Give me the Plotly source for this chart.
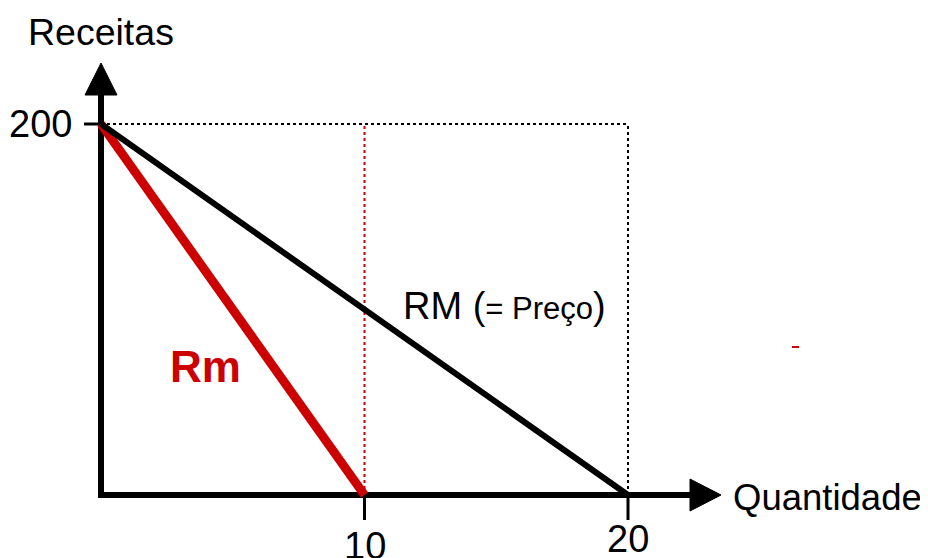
import plotly.graph_objects as go

# Data
quantidade = [0, 10, 20]
rm_media = [200, 100, 0]        # RM (= Preço)
rm_marginal = [200, 0]          # Rm, at Q = 0 and 10
x_ticks = [10, 20]
y_ticks = [200]

OFF = 8       # page margin offset
W, H = 928 - OFF, 558 - OFF
PXQ = 26.35   # px per unit of quantity
PXP = 1.855   # px per unit of revenue
X0, Y0 = 101 - OFF, 495 - OFF
xr = [-X0 / PXQ, (W - X0) / PXQ]
yr = [(Y0 - H) / PXP, Y0 / PXP]

def dq(px):
    return px / PXQ

def dp(px):
    return px / PXP

def sx(px):   # screen x -> data
    return (px - OFF - X0) / PXQ

def sy(py):   # screen y -> data
    return (Y0 - (py - OFF)) / PXP

FONT = "Liberation Sans, Arial, sans-serif"
fig = go.Figure()

def line(x, y, color="black", width=6, dash="solid"):
    fig.add_trace(go.Scatter(x=x, y=y, mode="lines", line=dict(color=color, width=width, dash=dash),
                             hoverinfo="skip", showlegend=False))

qmax = quantidade[-1]
pmax = rm_media[0]
# dotted guides
line([0, qmax], [pmax, pmax], width=2, dash="dot")
line([qmax, qmax], [0, pmax], width=2, dash="dot")
line([quantidade[1], quantidade[1]], [0, pmax], color="#cc0000", width=2, dash="dot")

# axes
y_top = sy(95)
x_end = sx(690)
line([0, 0], [-dp(3), y_top], width=6)
line([-dq(2), x_end], [0, 0], width=6)
# arrowheads
fig.add_trace(go.Scatter(x=[-dq(16), dq(16), 0, -dq(16)], y=[y_top, y_top, y_top + dp(32), y_top],
                         fill="toself", fillcolor="black", mode="lines", line=dict(color="black", width=1),
                         hoverinfo="skip", showlegend=False))
fig.add_trace(go.Scatter(x=[x_end, x_end, x_end + dq(31), x_end], y=[dp(16), -dp(16), 0, dp(16)],
                         fill="toself", fillcolor="black", mode="lines", line=dict(color="black", width=1),
                         hoverinfo="skip", showlegend=False))
# ticks
for t in y_ticks:
    line([-dq(17), 0], [t, t], width=3)
for t in x_ticks:
    line([t, t], [0, -dp(25)], width=3)

# curves
line(quantidade[:2], rm_marginal, color="#cc0000", width=9)
line([quantidade[0], quantidade[2]], [rm_media[0], rm_media[2]], color="black", width=6)

# small red dash
line([sx(792), sx(799)], [sy(347)] * 2, color="#cc0000", width=2)

ann = [
    dict(text="Receitas", x=0, y=sy(32), xanchor="center", yanchor="middle", size=37.5),
    dict(text=str(y_ticks[0]), x=sx(74), y=y_ticks[0], xanchor="right", yanchor="middle", size=38),
    dict(text=str(x_ticks[0]), x=x_ticks[0], y=sy(523), xanchor="center", yanchor="top", size=38),
    dict(text=str(x_ticks[1]), x=x_ticks[1], y=sy(516), xanchor="center", yanchor="top", size=38),
    dict(text="Quantidade", x=sx(731), y=sy(497), xanchor="left", yanchor="middle", size=36.5),
    dict(text="RM (<span style='font-size:31px'>= Preço</span>)", x=sx(401), y=sy(306),
         xanchor="left", yanchor="middle", size=38),
    dict(text="<b>Rm</b>", x=sx(168), y=sy(366), xanchor="left", yanchor="middle", size=44,
         color="#cc0000"),
]
annotations = []
for a in ann:
    annotations.append(dict(text=a["text"], x=a["x"], y=a["y"], xref="x", yref="y",
                            xanchor=a["xanchor"], yanchor=a["yanchor"], showarrow=False,
                            font=dict(family=FONT, size=a["size"], color=a.get("color", "black"))))

fig.update_layout(
    width=W, height=H, autosize=False,
    margin=dict(l=0, r=0, t=0, b=0),
    paper_bgcolor="white", plot_bgcolor="white",
    xaxis=dict(range=xr, visible=False, fixedrange=True),
    yaxis=dict(range=yr, visible=False, fixedrange=True),
    annotations=annotations,
    showlegend=False,
)
fig.write_html("out.html", post_script="document.body.style.overflow='hidden';")
